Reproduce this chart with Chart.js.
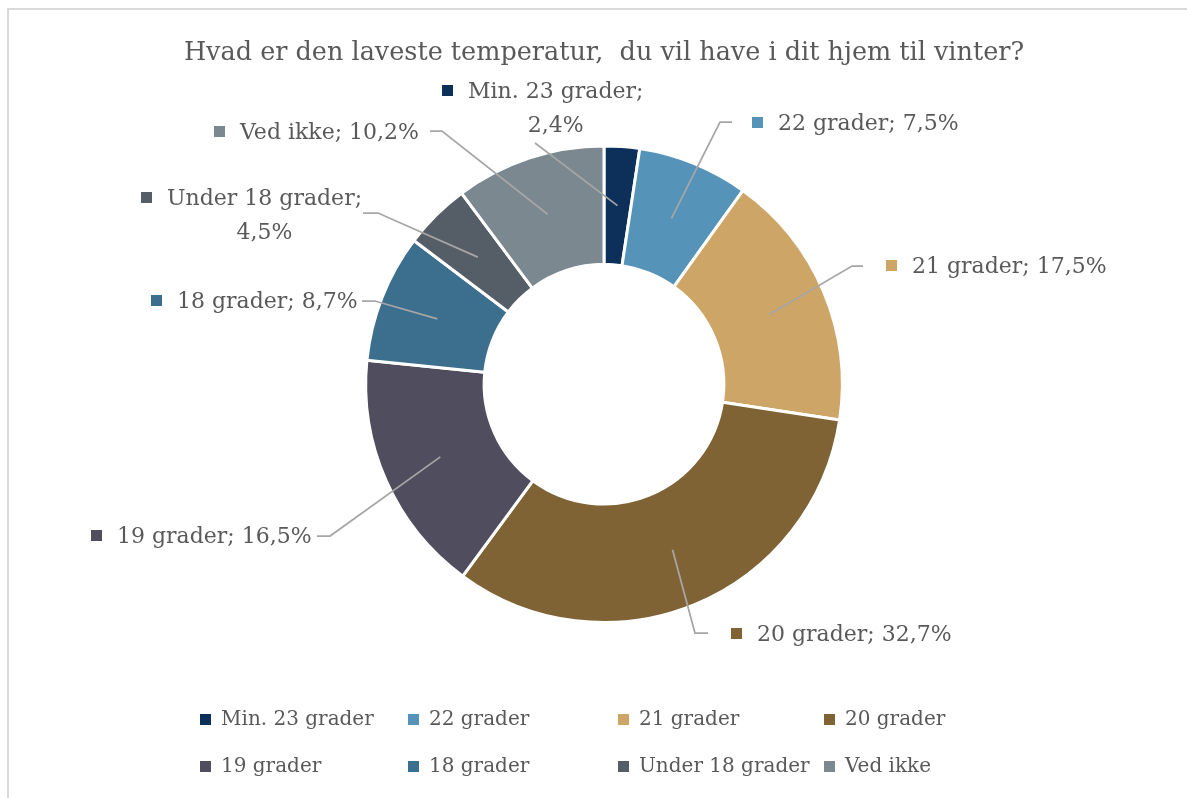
<!DOCTYPE html>
<html>
<head>
<meta charset="utf-8">
<script src="https://cdn.jsdelivr.net/npm/chart.js@4.4.0/dist/chart.umd.min.js"></script>
<style>
  body { margin: 0; background: #ffffff; overflow: hidden; }
  #frame { position: absolute; left: 7px; top: 8px; width: 1300px; height: 900px; border: 2px solid #d9d9d9; }
  #pieChart { position: absolute; left: 0; top: 0; }
</style>
</head>
<body>
<div id="frame"></div>
<canvas id="pieChart" width="1187" height="798"></canvas>
<script>
// dati
var categories = ["Min. 23 grader", "22 grader", "21 grader", "20 grader", "19 grader", "18 grader", "Under 18 grader", "Ved ikke"];
var shares = [2.4, 7.5, 17.5, 32.7, 16.5, 8.7, 4.5, 10.2];
var colors = ["#0c305a", "#5593b8", "#cda566", "#7f6335", "#4f4d5e", "#3c6f8e", "#555d66", "#7b8890"];
var titleText = "Hvad er den laveste temperatur,  du vil have i dit hjem til vinter?";

// posizione delle etichette (testo) e punti della linea guida dal lato etichetta
var labelPos = [
  { x: 468, y: 92, wrap: true },
  { x: 778, y: 124 },
  { x: 912, y: 267 },
  { x: 757, y: 635 },
  { x: 117, y: 537 },
  { x: 177, y: 302 },
  { x: 167, y: 199, wrap: true },
  { x: 240, y: 133 }
];
var leaderPts = [
  [[535, 143]],
  [[732, 122], [720, 122]],
  [[863, 266], [852, 266]],
  [[708, 633], [695, 633]],
  [[317, 536], [330, 536]],
  [[362, 301], [375, 301]],
  [[363, 213], [378, 213]],
  [[430, 131], [442, 131]]
];
var legendCols = [200, 408, 618, 824];
var legendRows = [720, 767];

var textColor = "#595959";
var serif = "'DejaVu Serif', serif";

function formatPct(v) {
  return v.toFixed(1).replace(".", ",") + "%";
}

var labelsPlugin = {
  id: "sliceLabels",
  afterDatasetsDraw: function (chart) {
    var ctx = chart.ctx;
    var arcs = chart.getDatasetMeta(0).data;
    ctx.save();
    ctx.font = "22px " + serif;
    ctx.textBaseline = "middle";
    for (var i = 0; i < arcs.length; i++) {
      var p = arcs[i].getProps(["x", "y", "startAngle", "endAngle", "innerRadius", "outerRadius"], true);
      var mid = (p.startAngle + p.endAngle) / 2;
      var r = (p.innerRadius + p.outerRadius) / 2;
      var ex = p.x + Math.cos(mid) * r;                        //punto al centro della fetta
      var ey = p.y + Math.sin(mid) * r;

      // linea guida
      var pts = leaderPts[i];
      ctx.strokeStyle = "#a6a6a6";
      ctx.lineWidth = 1.75;
      ctx.beginPath();
      ctx.moveTo(pts[0][0], pts[0][1]);
      for (var k = 1; k < pts.length; k++) ctx.lineTo(pts[k][0], pts[k][1]);
      ctx.lineTo(ex, ey);
      ctx.stroke();

      // quadratino + testo
      var pos = labelPos[i];
      ctx.fillStyle = colors[i];
      ctx.fillRect(pos.x - 26, pos.y - 7, 11, 11);
      ctx.fillStyle = textColor;
      var pct = formatPct(shares[i]);
      if (pos.wrap) {
        var first = categories[i] + ";";
        ctx.textAlign = "left";
        ctx.fillText(first, pos.x, pos.y);
        var w = ctx.measureText(first).width;
        ctx.textAlign = "center";
        ctx.fillText(pct, pos.x + w / 2, pos.y + 34);
      } else {
        ctx.textAlign = "left";
        ctx.fillText(categories[i] + "; " + pct, pos.x, pos.y);
      }
    }
    ctx.restore();
  }
};

var legendPlugin = {
  id: "gridLegend",
  afterDraw: function (chart) {
    var ctx = chart.ctx;
    ctx.save();
    ctx.font = "20px " + serif;
    ctx.textBaseline = "middle";
    ctx.textAlign = "left";
    for (var i = 0; i < categories.length; i++) {
      var cx = legendCols[i % 4];
      var cy = legendRows[Math.floor(i / 4)];
      ctx.fillStyle = colors[i];
      ctx.fillRect(cx, cy - 6, 11, 11);
      ctx.fillStyle = textColor;
      ctx.fillText(categories[i], cx + 21, cy);
    }
    ctx.restore();
  }
};

function createPieChart() {
  var pieChart = document.getElementById("pieChart");
  var chart = new Chart(pieChart, {
    type: "doughnut",
    data: {
      labels: categories,
      datasets: [{
        data: shares,
        backgroundColor: colors,
        borderColor: "#ffffff",
        borderWidth: 3
      }]
    },
    options: {
      responsive: false,
      animation: false,
      devicePixelRatio: 1,
      cutout: "50.3%",
      layout: { padding: { top: 31, bottom: 174, left: 21, right: 0 } },
      plugins: {
        legend: { display: false },
        tooltip: { enabled: false },
        title: {
          display: true,
          text: titleText,
          color: textColor,
          font: { family: serif, size: 25.5, weight: "normal", lineHeight: 1.2 },
          padding: { top: 7, bottom: 75.8 }
        }
      }
    },
    plugins: [labelsPlugin, legendPlugin]
  });
}

createPieChart();
</script>
</body>
</html>
